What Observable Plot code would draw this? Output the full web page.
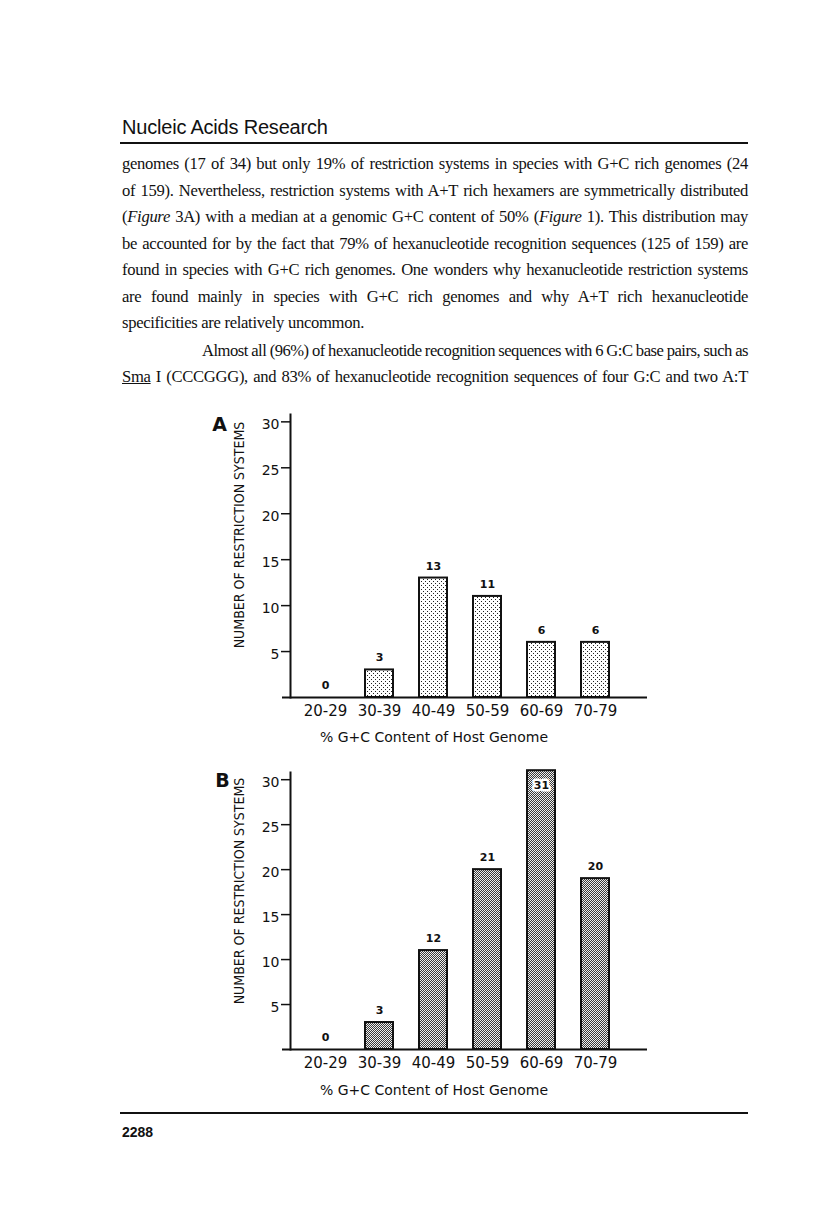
<!DOCTYPE html>
<html>
<head>
<meta charset="utf-8">
<script src="https://cdn.jsdelivr.net/npm/d3@7"></script>
<script src="https://cdn.jsdelivr.net/npm/@observablehq/plot@0.6"></script>
<style>
  body { margin: 0; background: #fff; }
  #page { position: relative; width: 816px; height: 1209px; overflow: hidden; background: #fff; color: #111; }
  .hdr { position: absolute; left: 122px; top: 116px; font: 20px "Liberation Sans", Arial, sans-serif; letter-spacing: -0.2px; }
  .rule { position: absolute; left: 120px; width: 628px; height: 2px; background: #111; }
  .line { position: absolute; left: 122px; width: 626px; height: 26px; line-height: 26px;
          font: 16.6px "Liberation Serif", "Times New Roman", serif; letter-spacing: -0.3px;
          text-align: justify; text-align-last: justify; }
  .last { text-align: left; text-align-last: left; }
  .indent { left: 202px; width: 546px; letter-spacing: -0.5px; word-spacing: -0.5px; }
  .folio { position: absolute; left: 122px; top: 1124px; font: bold 14px "Liberation Sans", Arial, sans-serif; }
  .chart { position: absolute; left: 0; }
</style>
</head>
<body>
<svg width="0" height="0" style="position:absolute">
  <defs>
    <pattern id="dotsA" width="4" height="4" patternUnits="userSpaceOnUse">
      <rect width="4" height="4" fill="#fff"/>
      <rect x="1" y="1" width="1" height="1" fill="#222"/>
      <rect x="3" y="3" width="1" height="1" fill="#222"/>
    </pattern>
    <pattern id="checkB" width="2" height="2" patternUnits="userSpaceOnUse">
      <rect width="2" height="2" fill="#eee"/>
      <rect x="0" y="0" width="1" height="1" fill="#3a3a3a"/>
      <rect x="1" y="1" width="1" height="1" fill="#3a3a3a"/>
    </pattern>
  </defs>
</svg>
<div id="page">
  <div class="hdr">Nucleic Acids Research</div>
  <div class="rule" style="top:142px"></div>

  <div class="line" style="top:154px">genomes (17 of 34) but only 19% of restriction systems in species with G+C rich genomes (24</div>
  <div class="line" style="top:180.5px">of 159). Nevertheless, restriction systems with A+T rich hexamers are symmetrically distributed</div>
  <div class="line" style="top:207px">(<i>Figure</i> 3A) with a median at a genomic G+C content of 50% (<i>Figure</i> 1). This distribution may</div>
  <div class="line" style="top:233.5px">be accounted for by the fact that 79% of hexanucleotide recognition sequences (125 of 159) are</div>
  <div class="line" style="top:260px">found in species with G+C rich genomes. One wonders why hexanucleotide restriction systems</div>
  <div class="line" style="top:286.5px">are found mainly in species with G+C rich genomes and why A+T rich hexanucleotide</div>
  <div class="line last" style="top:313px">specificities are relatively uncommon.</div>
  <div class="line indent" style="top:341px">Almost all (96%) of hexanucleotide recognition sequences with 6 G:C base pairs, such as</div>
  <div class="line" style="top:367px"><u>Sma</u> I (CCCGGG), and 83% of hexanucleotide recognition sequences of four G:C and two A:T</div>

  <div class="chart" id="chartA" style="top:380px"></div>
  <div class="chart" id="chartB" style="top:745px"></div>

  <div class="rule" style="top:1112px"></div>
  <div class="folio">2288</div>
</div>
<script>
// ---- data ----
const categories = ["20-29", "30-39", "40-49", "50-59", "60-69", "70-79"];
const heightsA = [0, 3, 13, 11, 6, 6];
const labelsA = ["0", "3", "13", "11", "6", "6"];
const heightsB = [0, 3, 11, 20, 31, 19];
const labelsB = ["0", "3", "12", "21", "31", "20"];
const yTicks = [5, 10, 15, 20, 25, 30];
const yTitle = "NUMBER OF RESTRICTION SYSTEMS";
const xTitle = "% G+C Content of Host Genome";

function makeChart({panel, heights, labels, fill, height, marginTop, marginBottom, panelDx, panelDy, yTitleDy, xTitleDy}) {
  const data = categories.map((c, i) => ({cat: c, h: heights[i], label: labels[i]}));
  const sans = "DejaVu Sans, Verdana, sans-serif";
  return Plot.plot({
    width: 816,
    height,
    marginLeft: 290,
    marginRight: 169,
    marginTop,
    marginBottom,
    style: {fontFamily: sans, fontSize: "14px", color: "#111", background: "transparent", overflow: "visible"},
    x: {domain: categories, paddingInner: 0.49, paddingOuter: 0.5, align: 0.345, label: null},
    y: {domain: [0, 30.8], label: null},
    marks: [
      Plot.barY(data.filter(d => d.h > 0), {x: "cat", y: "h", fill, stroke: "#111", strokeWidth: 2}),
      Plot.ruleY([0], {stroke: "#111", strokeWidth: 2, insetLeft: -8}),
      Plot.frame({anchor: "left", stroke: "#111", strokeWidth: 2}),
      Plot.axisY(yTicks, {tickSize: 9, tickFormat: () => "", strokeWidth: 1.5, label: null}),
      Plot.axisY(yTicks, {tickSize: 0, tickPadding: 11, dy: 3, fontSize: 14, label: null}),
      Plot.axisX({tickSize: 0, tickPadding: 8, fontSize: 15, label: null}),
      Plot.text(data.filter(d => d.h < 30), {x: "cat", y: "h", text: "label", dy: -12, fontSize: 11, fontWeight: "bold"}),
      Plot.text(data.filter(d => d.h >= 30), {x: "cat", y: "h", text: "label", dy: 15, fontSize: 11, fontWeight: "bold", stroke: "white", strokeWidth: 5, fill: "#111"}),
      Plot.text([yTitle], {frameAnchor: "left", textAnchor: "middle", rotate: -90, dx: -51, dy: yTitleDy, fontSize: 14,
        fontFamily: "DejaVu Sans Condensed, Liberation Sans Narrow, DejaVu Sans, sans-serif"}),
      Plot.text([panel], {frameAnchor: "top-left", textAnchor: "middle", dx: panelDx, dy: panelDy, fontSize: 19, fontWeight: "bold"}),
      Plot.text([xTitle], {frameAnchor: "bottom", dx: -35, dy: xTitleDy, fontSize: 14})
    ]
  });
}

document.getElementById("chartA").append(makeChart({
  panel: "A", heights: heightsA, labels: labelsA, fill: "url(#dotsA)",
  height: 380, marginTop: 34, marginBottom: 63, panelDx: -71, panelDy: 3, yTitleDy: -21, xTitleDy: 44
}));
document.getElementById("chartB").append(makeChart({
  panel: "B", heights: heightsB, labels: labelsB, fill: "url(#checkB)",
  height: 370, marginTop: 27, marginBottom: 66, panelDx: -68, panelDy: 1, yTitleDy: -20, xTitleDy: 45
}));
</script>
</body>
</html>
